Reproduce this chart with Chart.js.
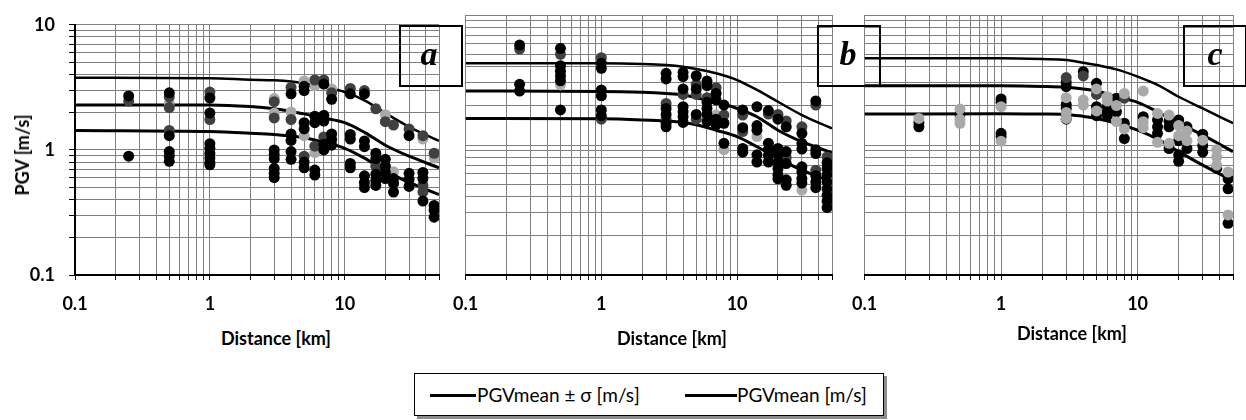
<!DOCTYPE html>
<html><head><meta charset="utf-8">
<script src="https://cdn.jsdelivr.net/npm/chart.js@4.4.0/dist/chart.umd.min.js"></script>
<style>
html,body{margin:0;padding:0;background:#fff;width:1246px;height:420px;overflow:hidden;font-family:Lato,'Open Sans',sans-serif;}
.pane{position:absolute;top:0;}
.box{position:absolute;top:25px;height:62px;width:64px;border:2px solid #000;box-sizing:border-box;z-index:5;}
.let{position:absolute;top:0;left:0;width:100%;text-align:center;font:italic bold 34px 'Liberation Serif',serif;line-height:54px;color:#000;}
.xt{position:absolute;font:bold 18px Lato,sans-serif;transform:translate(-50%,-50%);white-space:nowrap;color:#000;}
.yt{position:absolute;font:bold 18px Lato,sans-serif;transform:translate(-50%,-50%) rotate(-90deg);white-space:nowrap;color:#000;}
#legend{position:absolute;left:414px;top:373px;width:470px;height:43px;border:1px solid #000;box-shadow:3px 3px 0 #8c8c8c;box-sizing:border-box;background:#fff;}
.ln{position:absolute;top:20px;height:3px;background:#000;}
.lt{position:absolute;top:9px;font:19px Lato,sans-serif;white-space:nowrap;color:#000;}
</style></head>
<body>
<div class="pane" style="left:0px"><canvas id="ca" width="452" height="320"></canvas></div>
<div class="pane" style="left:440px"><canvas id="cb" width="405" height="320"></canvas></div>
<div class="pane" style="left:839px"><canvas id="cc" width="407" height="320"></canvas></div>

<div class="box" style="left:399px"><span class="let" style="left:-2px">a</span></div>
<div class="box" style="left:817px"><span class="let" style="left:-1px">b</span></div>
<div class="box" style="left:1183px"><span class="let">c</span></div>

<div class="yt" style="left:22px;top:155px">PGV [m/s]</div>
<div class="xt" style="left:276px;top:338px">Distance [km]</div>
<div class="xt" style="left:672px;top:338px">Distance [km]</div>
<div class="xt" style="left:1072px;top:333px">Distance [km]</div>

<div id="legend">
  <span class="ln" style="left:15px;width:46px"></span><span class="lt" style="left:62px">PGVmean ± σ [m/s]</span>
  <span class="ln" style="left:270px;width:52px"></span><span class="lt" style="left:322px">PGVmean [m/s]</span>
</div>

<script>
// ---- axis ticks ----
const xTickVals = [0.1,0.2,0.3,0.4,0.5,0.6,0.7,0.8,0.9,1,2,3,4,5,6,7,8,9,10,20,30,40,50];
const yTickVals = [0.1,0.2,0.3,0.4,0.5,0.6,0.7,0.8,0.9,1,2,3,4,5,6,7,8,9,10];
const tickLabels = [0.1, 1, 10];

// ---- model curves ----
const curveX = [0.1, 1, 2, 3, 4, 5, 7, 10, 14, 20, 30, 50];
const aUpper = [3.78, 3.74, 3.64, 3.60, 3.52, 3.40, 3.16, 2.90, 2.49, 1.97, 1.53, 1.18];
const aMean  = [2.29, 2.29, 2.22, 2.13, 2.03, 1.94, 1.80, 1.65, 1.38, 1.09, 0.89, 0.72];
const aLower = [1.43, 1.40, 1.36, 1.33, 1.29, 1.25, 1.15, 1.03, 0.86, 0.68, 0.55, 0.44];
const bUpper = [4.25, 4.25, 4.20, 4.12, 4.00, 3.84, 3.56, 3.16, 2.65, 2.15, 1.70, 1.34];
const bMean  = [2.60, 2.58, 2.54, 2.49, 2.43, 2.31, 2.13, 1.91, 1.65, 1.30, 1.06, 0.87];
const bLower = [1.60, 1.59, 1.56, 1.53, 1.49, 1.43, 1.30, 1.16, 0.97, 0.79, 0.64, 0.52];
const cUpper = [4.64, 4.64, 4.58, 4.51, 4.30, 4.12, 3.82, 3.36, 2.90, 2.35, 1.91, 1.47];
const cMean  = [2.86, 2.85, 2.82, 2.78, 2.70, 2.60, 2.35, 2.13, 1.80, 1.47, 1.19, 0.89];
const cLower = [1.73, 1.74, 1.73, 1.72, 1.66, 1.60, 1.47, 1.30, 1.11, 0.89, 0.70, 0.53];

// ---- observed PGV: [distance km, PGV m/s] ----
const aBlack = [[0.25,2.70],[0.25,0.89],[0.5,2.86],[0.5,1.30],[0.5,0.97],[0.5,0.89],[0.5,0.81],
 [1,2.60],[1,1.97],[1,1.12],[1,1.03],[1,0.94],[1,0.86],[1,0.79],[1,0.76],
 [3,1.0],[3,0.92],[3,0.85],[3,0.71],[3,0.65],[3,0.60],
 [4,2.81],[4,1.34],[4,1.19],[4,0.97],[4,0.84],
 [5,3.22],[5,2.98],[5,1.65],[5,1.47],[5,0.80],[5,0.72],
 [6,1.86],[6,1.65],[6,0.69],[6,0.63],
 [7,3.36],[7,1.89],[7,1.70],[7,1.11],[7,1.0],
 [8,2.54],[8,1.34],[8,1.21],[8,1.09],
 [11,2.81],[11,1.33],[11,1.22],[11,0.78],[11,0.72],
 [14,2.81],[14,1.18],[14,1.06],[14,0.62],[14,0.55],[14,0.50],
 [17,0.94],[17,0.85],[17,0.64],[17,0.57],[17,0.52],
 [20,0.84],[20,0.74],[20,0.66],[20,0.59],
 [23,0.59],[23,0.54],[23,0.46],
 [30,1.30],[30,0.65],[30,0.58],[30,0.51],
 [38,0.66],[38,0.59],[38,0.39],
 [46,0.36],[46,0.33],[46,0.29]];
const aDark = [[0.25,2.45],[0.5,2.65],[0.5,2.18],[0.5,1.43],[1,2.90],[1,1.75],[3,2.43],[3,1.80],
 [4,3.16],[4,1.75],[5,0.89],[6,3.62],[6,1.07],[7,3.62],[7,1.27],[8,2.86],[11,3.10],[14,2.98],
 [17,2.13],[17,0.74],[20,1.68],[23,1.58],[30,1.47],[38,1.30],[38,0.52],[38,0.46],[46,0.94]];
const aLight = [[0.5,2.35],[1,2.68],[3,2.57],[3,1.97],[4,2.01],[5,3.56],[5,1.30],[6,3.26],[6,0.95],
 [8,3.07],[20,1.91],[23,0.67],[38,1.22],[46,0.86]];

const bBlack = [[0.25,5.87],[0.25,2.93],[0.25,2.60],
 [0.5,5.54],[0.5,4.07],[0.5,3.70],[0.5,3.41],[0.5,3.12],[0.5,1.86],
 [1,4.25],[1,3.89],[1,2.65],[1,2.39],[1,1.86],[1,1.68],
 [3,3.56],[3,3.22],[3,1.91],[3,1.72],[3,1.47],[3,1.38],
 [4,3.62],[4,3.36],[4,2.70],[4,1.97],[4,1.80],[4,1.65],[4,1.49],
 [5,3.41],[5,2.70],[5,1.72],
 [6,3.10],[6,2.86],[6,2.13],[6,1.91],[6,1.72],[6,1.52],
 [7,2.49],[7,2.22],[7,1.58],[7,1.43],
 [8,2.03],[8,1.47],[8,1.03],
 [11,1.86],[11,1.36],[11,0.94],[11,0.88],
 [14,1.97],[14,1.41],[14,1.30],[14,0.84],[14,0.74],
 [17,1.84],[17,1.03],[17,0.92],[17,0.83],[17,0.74],
 [20,1.58],[20,0.94],[20,0.84],[20,0.74],[20,0.66],[20,0.59],[20,0.55],
 [23,1.38],[23,0.89],[23,0.72],[23,0.54],[23,0.49],
 [30,1.23],[30,1.03],[30,0.93],[30,0.68],[30,0.62],[30,0.55],[30,0.51],
 [38,2.18],[38,0.92],[38,0.86],[38,0.58],[38,0.52],[38,0.47],
 [46,0.73],[46,0.66],[46,0.59],[46,0.52],[46,0.46],[46,0.41],[46,0.37],[46,0.33]];
const bDark = [[0.25,5.47],[0.5,4.98],[1,4.70],[1,1.58],[3,2.09],[3,1.58],[4,2.45],[5,2.93],[5,2.45],
 [5,1.58],[6,2.31],[7,2.76],[8,1.70],[11,1.70],[11,1.27],[17,1.73],[20,1.72],[23,1.53],[23,0.80],
 [30,1.38],[38,2.03],[38,0.64],[46,0.81]];
const bLight = [[0.5,2.90],[7,1.70],[8,0.92],[14,1.16],[30,0.45]];

const cBlack = [[0.25,1.49],[0.25,1.38],[0.5,1.72],[1,2.26],[1,2.13],[1,1.23],[1,1.16],
 [3,3.03],[3,2.81],[3,2.05],[3,1.91],[3,1.58],[4,3.66],[5,2.98],[5,1.97],[5,1.68],
 [6,1.97],[6,1.80],[6,1.68],[7,2.29],[7,1.80],[8,1.47],[8,1.12],[11,1.65],
 [14,1.56],[14,1.38],[14,1.23],[17,1.53],[17,1.38],[17,0.94],
 [20,1.56],[20,1.08],[20,0.84],[20,0.75],[23,1.38],[23,0.94],
 [30,1.21],[30,0.99],[30,0.88],[38,0.66],[46,0.55],[46,0.46],[46,0.25]];
const cDark = [[3,3.30],[4,3.40],[5,2.45],[8,2.29]];
const cLight = [[0.25,1.60],[0.5,1.89],[0.5,1.58],[0.5,1.47],[1,1.97],[1,1.07],
 [3,2.31],[3,1.78],[3,1.60],[4,2.22],[4,2.03],[5,2.70],[5,1.83],[6,2.35],[6,2.18],
 [7,2.01],[7,1.51],[8,2.49],[8,1.33],[11,2.60],[11,1.51],[11,1.36],[14,1.75],[14,1.05],
 [17,1.70],[17,1.03],[20,1.41],[20,1.18],[23,1.28],[23,1.08],[30,1.09],
 [38,0.92],[38,0.81],[38,0.70],[46,0.62],[46,0.29]];

const COL = {black:'#000000', dark:'#404040', light:'#a9a9a9', grid:'#808080'};

function pts(arr){ return arr.map(p => ({x:p[0], y:p[1]})); }
function curve(ys){ return curveX.map((x,i) => ({x:x, y:ys[i]})); }
function scatterDs(arr, color){
  return {type:'scatter', data:pts(arr), backgroundColor:color, borderColor:color,
          pointRadius:5.5, pointHoverRadius:5.5, borderWidth:0, showLine:false};
}
function lineDs(ys, w){
  return {type:'line', data:curve(ys), borderColor:'#000', borderWidth:w, pointRadius:0,
          fill:false, cubicInterpolationMode:'monotone', showLine:true};
}

function makePanel(id, pointSets, curves, showY, pad){
  const tickFont = {family:'Lato', weight:'bold', size:18};
  const xScale = {
    type:'logarithmic', min:0.1, max:50,
    afterBuildTicks: s => { s.ticks = xTickVals.map(v => ({value:v})); },
    afterFit: s => { s.height = 45; },
    ticks:{ autoSkip:false, maxRotation:0, minRotation:0, padding:13, color:'#000', font:tickFont,
            callback: v => tickLabels.includes(v) ? String(v) : '' },
    grid:{ color:COL.grid, lineWidth:1, drawTicks:true, tickLength:5, tickColor:'#000', tickWidth:1 },
    border:{ display:true, color:'#000', width:2 }
  };
  const yScale = {
    type:'logarithmic', min:0.1, max:10,
    afterBuildTicks: s => { s.ticks = yTickVals.map(v => ({value:v})); },
    afterFit: s => { s.width = showY ? 75 : 0; },
    ticks:{ display:showY, autoSkip:false, padding:14, color:'#000', font:tickFont,
            callback: v => tickLabels.includes(v) ? String(v) : '' },
    grid:{ color:COL.grid, lineWidth:1, drawTicks:showY, tickLength:6, tickColor:'#000', tickWidth:1 },
    border:{ display:showY, color:'#000', width:2 }
  };
  const datasets = pointSets.map(ps => scatterDs(ps[0], ps[1]))
    .concat([lineDs(curves[0], 2.5), lineDs(curves[1], 3), lineDs(curves[2], 3)]);
  new Chart(document.getElementById(id), {
    type:'scatter',
    data:{ datasets },
    options:{
      responsive:false, animation:false, devicePixelRatio:1,
      layout:{ padding: pad },
      plugins:{ legend:{display:false}, tooltip:{enabled:false} },
      scales:{ x:xScale, y:yScale }
    }
  });
}

makePanel('ca', [[aBlack,COL.black],[aDark,COL.dark],[aLight,COL.light]], [aUpper,aMean,aLower], true,
  {top:15, left:0, right:7.5, bottom:0});
makePanel('cb', [[bBlack,COL.black],[bDark,COL.dark],[bLight,COL.light]], [bUpper,bMean,bLower], false,
  {top:15, left:21.7, right:5.4, bottom:0});
makePanel('cc', [[cLight,COL.light],[cDark,COL.dark],[cBlack,COL.black]], [cUpper,cMean,cLower], false,
  {top:15, left:21.7, right:7.4, bottom:0});
</script>
</body></html>
